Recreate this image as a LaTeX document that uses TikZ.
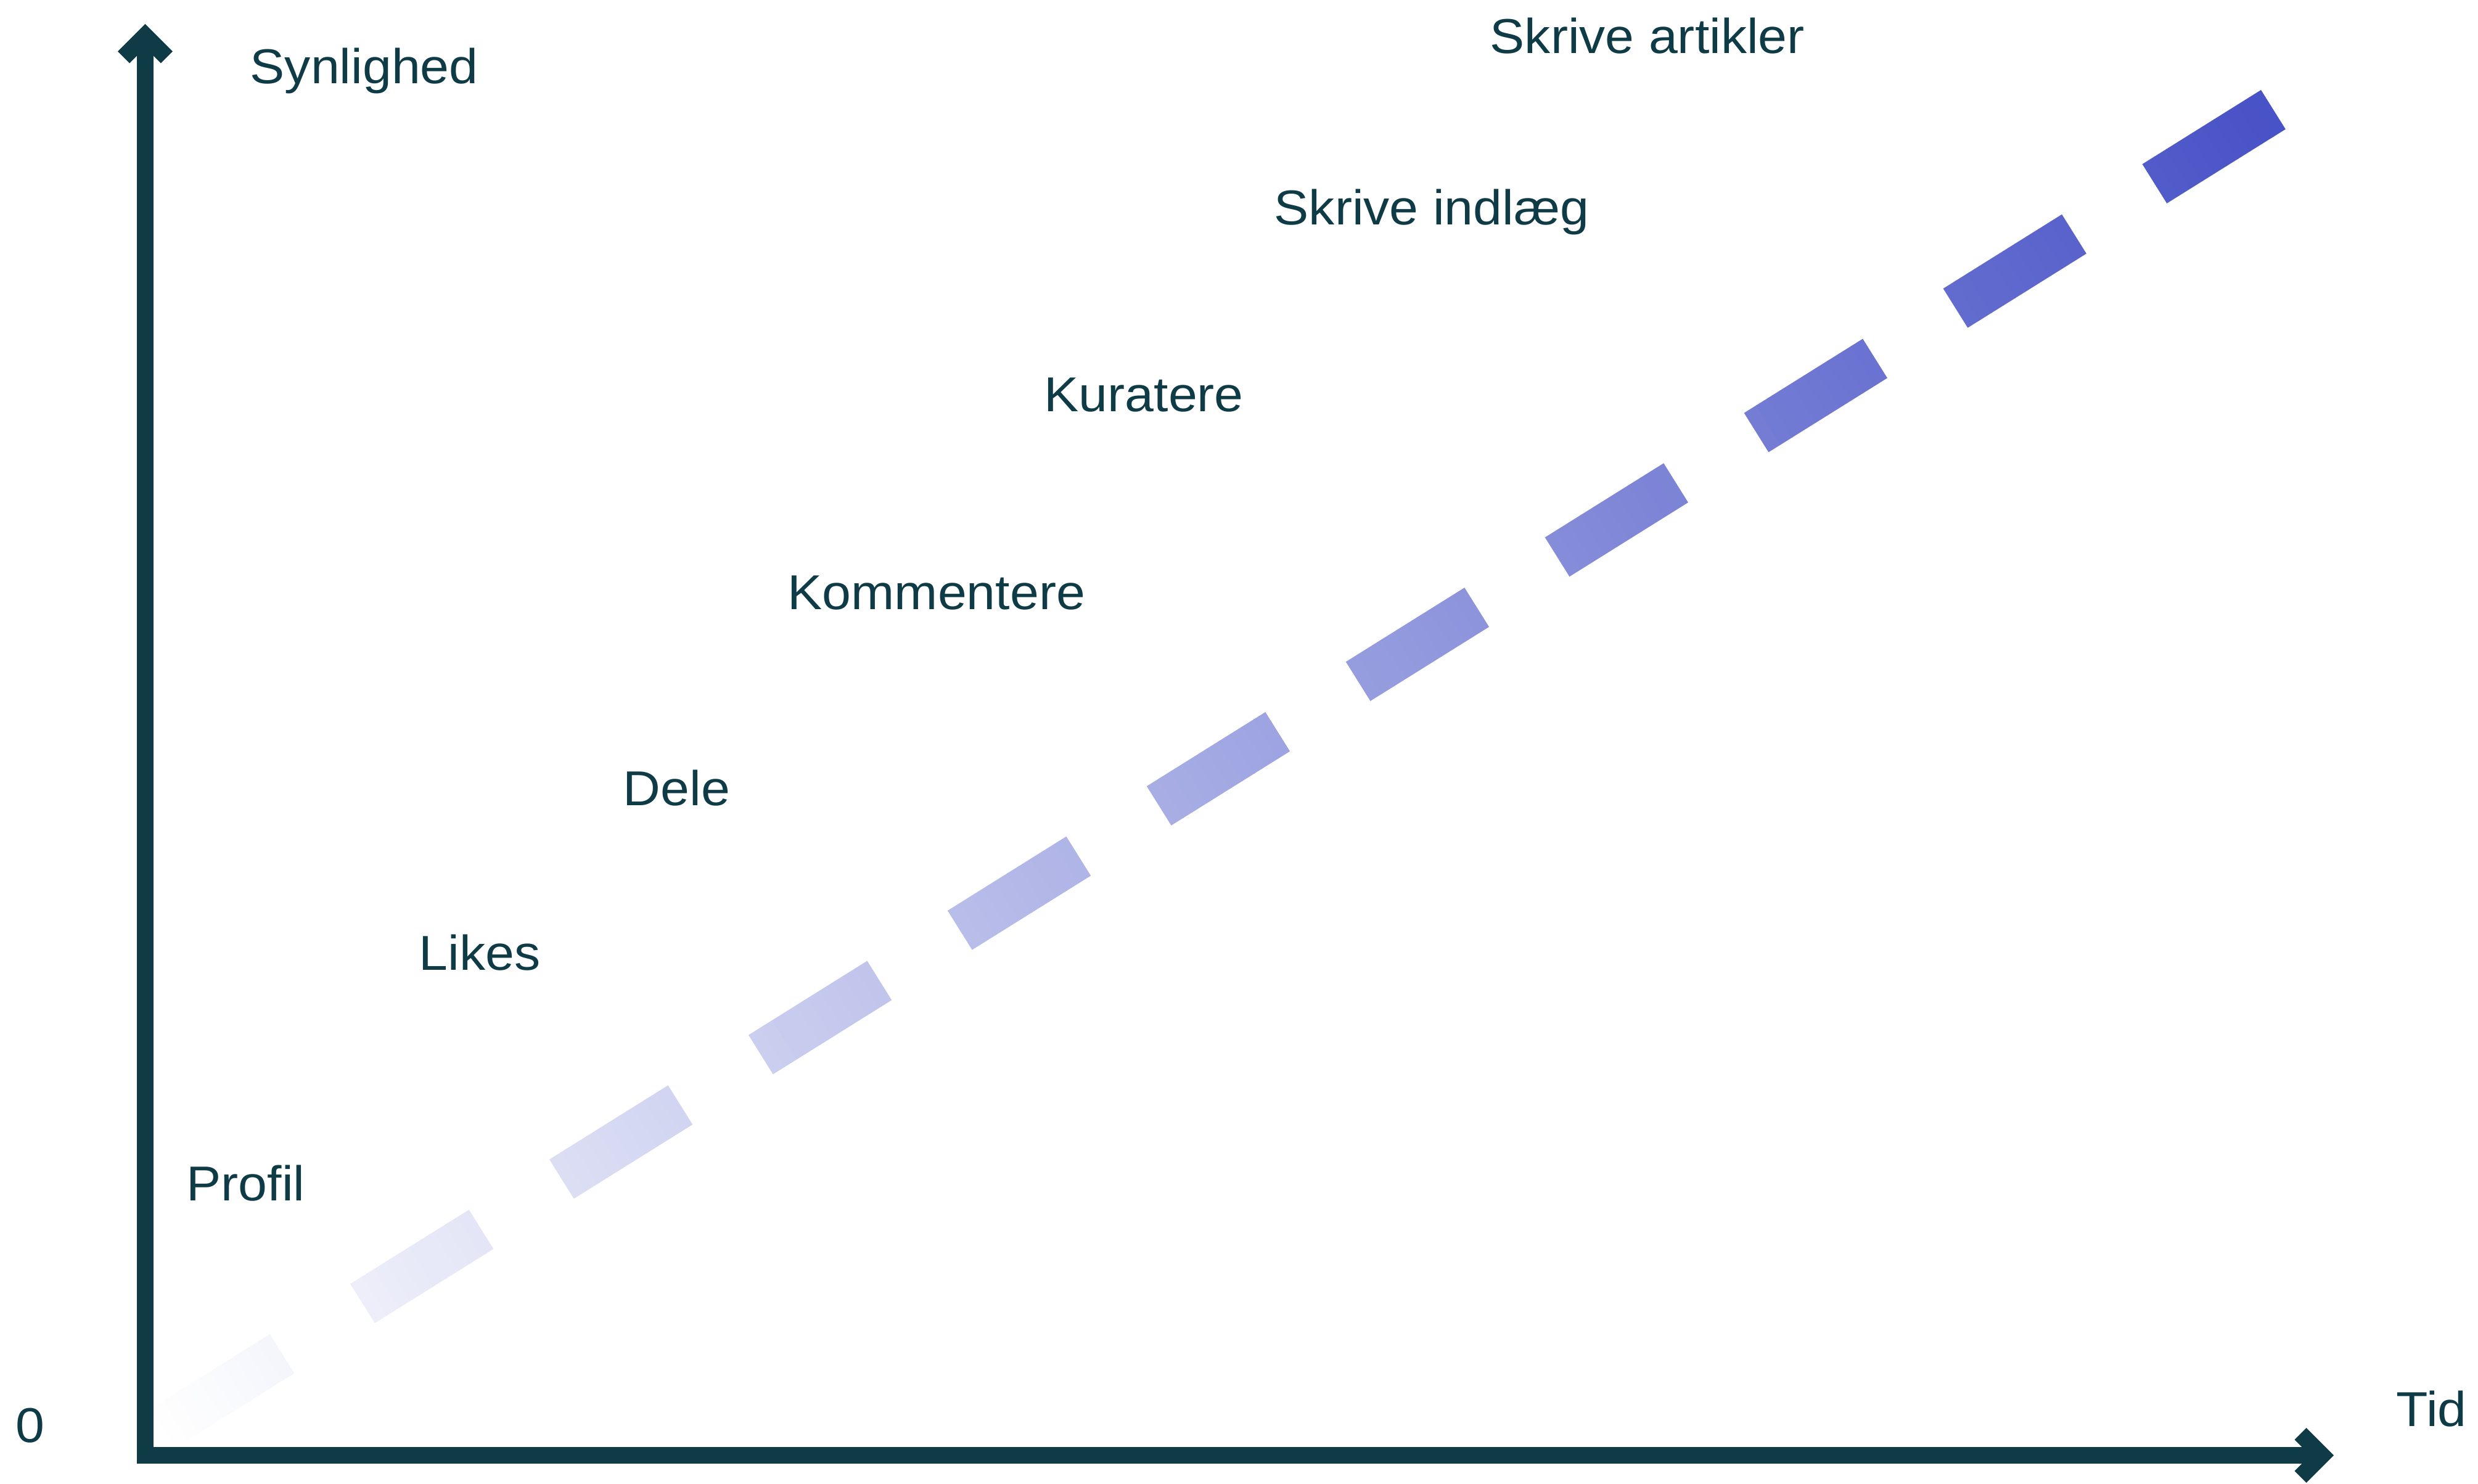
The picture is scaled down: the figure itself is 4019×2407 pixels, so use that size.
\documentclass[tikz,border=0pt]{standalone}
\usepackage{fontspec}
\setmainfont[FakeStretch=1.06]{Liberation Sans}
\usetikzlibrary{calc}
\definecolor{teal}{RGB}{14,59,70}
\definecolor{dashblue}{RGB}{71,82,198}
\begin{document}
\begin{tikzpicture}[x=0.01cm,y=-0.01cm,
  axisline/.style={draw=teal, line width=0.27cm, line join=miter, line cap=butt},
  lbl/.style={text=teal, inner sep=0pt, anchor=base west, font=\fontsize{22.6}{27}\selectfont}]
\useasboundingbox (0,0) rectangle (4019,2407);
% gradient dashed line
\coordinate (S) at (265,2316);
\foreach \i in {0,...,10} {
  \foreach \j in {0,...,9} {
    \pgfmathsetmacro\da{\i*380.8+\j*22.7}
    \pgfmathsetmacro\db{\da+22.7+(\j<9)*0.8}
    \pgfmathsetmacro\pct{(\da+11.35)/4035*100}
    \colorlet{dc}{dashblue!\pct!white}
    \draw[dc, line width=0.75cm, line cap=butt] ($(S)+(-32:\da)$) -- ($(S)+(-32:\db)$);
  }
}
% axes
\coordinate (O) at (235.5,2360.5);
\coordinate (Ytop) at (235.5,58);
\coordinate (Xend) at (3766,2360.5);
\draw[axisline] (Ytop) -- (O) -- (Xend);
\draw[axisline] ($(Ytop)+(-35,35)$) -- (Ytop) -- ($(Ytop)+(35,35)$);
\draw[axisline] ($(Xend)+(-35,-35)$) -- (Xend) -- ($(Xend)+(-35,35)$);
% labels
\node[lbl] (syn) at (405,136) {Synlighed};
\node[lbl] (tid) at (3886,2313) {Tid};
\node[lbl] (zero) at (25,2339) {0};
\node[lbl] (art) at (2416,87) {Skrive artikler};
\node[lbl] (ind) at (2066,365) {Skrive indlæg};
\node[lbl] (kur) at (1693,668) {Kuratere};
\node[lbl] (kom) at (1277,988) {Kommentere};
\node[lbl] (dele) at (1010,1306) {Dele};
\node[lbl] (likes) at (679,1573) {Likes};
\node[lbl] (prof) at (302,1947) {Profil};
\end{tikzpicture}
\end{document}
